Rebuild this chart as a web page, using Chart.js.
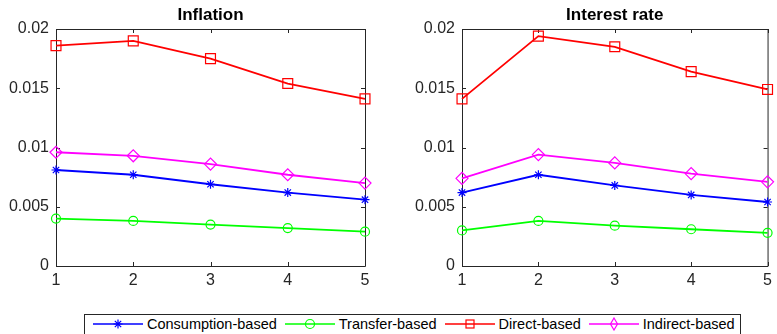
<!DOCTYPE html>
<html>
<head>
<meta charset="utf-8">
<script src="https://cdn.jsdelivr.net/npm/chart.js@4/dist/chart.umd.min.js"></script>
<style>
  html, body { margin: 0; padding: 0; background: #fff; overflow: hidden; }
  body { width: 777px; height: 334px; position: relative; font-family: "Liberation Sans", Arial, sans-serif; }
  .panel { position: absolute; top: 0; height: 290px; }
  #legend {
    position: absolute; left: 84px; top: 314px; width: 657px; height: 26px;
    box-sizing: border-box; border: 1px solid #262626; background: #fff;
    display: flex; align-items: flex-start; padding-left: 8px;
  }
  #legend .item { display: flex; align-items: center; height: 18px; margin-right: 8px; }
  #legend svg { margin-right: 4px; }
  #legend span { font-size: 14.5px; color: #000; white-space: nowrap; }
</style>
</head>
<body>
<div class="panel" style="left:0;width:388px"><canvas id="inflationChart"></canvas></div>
<div class="panel" style="left:388px;width:389px"><canvas id="interestChart"></canvas></div>
<div id="legend"></div>

<script>
// horizon (periods) on the x axis
const periods = [1, 2, 3, 4, 5];
const yTicks = [0, 0.005, 0.01, 0.015, 0.02];

const seriesNames = ["Consumption-based", "Transfer-based", "Direct-based", "Indirect-based"];
const seriesColors = ["#0000ff", "#00ff00", "#ff0000", "#ff00ff"];
const seriesMarkers = ["star", "circle", "rect", "rectRot"];
const markerRadius = [4.5, 4.5, 7, 6];

// Inflation panel
const inflationConsumption = [0.0081, 0.0077, 0.0069, 0.0062, 0.0056];
const inflationTransfer    = [0.0040, 0.0038, 0.0035, 0.0032, 0.0029];
const inflationDirect      = [0.0186, 0.0190, 0.0175, 0.0154, 0.0141];
const inflationIndirect    = [0.0096, 0.0093, 0.0086, 0.0077, 0.0070];

// Interest rate panel
const interestConsumption = [0.0062, 0.0077, 0.0068, 0.0060, 0.0054];
const interestTransfer    = [0.0030, 0.0038, 0.0034, 0.0031, 0.0028];
const interestDirect      = [0.0141, 0.0194, 0.0185, 0.0164, 0.0149];
const interestIndirect    = [0.0074, 0.0094, 0.0087, 0.0078, 0.0071];

const AXIS_COLOR = "#262626";
const TICK_FONT = { family: "'Liberation Sans', Arial, sans-serif", size: 16 };

// MATLAB-like box with inward ticks, plus title centred over the plot area
const boxAxes = {
  id: "boxAxes",
  beforeDatasetsDraw(chart) {
    const { ctx, chartArea: a, scales: { x, y } } = chart;
    const tl = 4;
    ctx.save();
    ctx.strokeStyle = AXIS_COLOR;
    ctx.lineWidth = 1;
    ctx.beginPath();
    ctx.rect(a.left + 0.5, a.top + 0.5, a.right - a.left, a.bottom - a.top);
    y.ticks.forEach((t) => {
      const py = Math.round(y.getPixelForValue(t.value)) + 0.5;
      ctx.moveTo(a.left, py); ctx.lineTo(a.left + tl, py);
      ctx.moveTo(a.right, py); ctx.lineTo(a.right - tl, py);
    });
    x.ticks.forEach((t, i) => {
      const px = Math.round(x.getPixelForTick(i)) + 0.5;
      ctx.moveTo(px, a.bottom); ctx.lineTo(px, a.bottom - tl);
      ctx.moveTo(px, a.top); ctx.lineTo(px, a.top + tl);
    });
    ctx.stroke();
    ctx.restore();
  },
  afterDraw(chart, args, opts) {
    const { ctx, chartArea: a } = chart;
    ctx.save();
    ctx.fillStyle = "#000";
    ctx.font = "bold 17px 'Liberation Sans', Arial, sans-serif";
    ctx.textAlign = "center";
    ctx.textBaseline = "middle";
    ctx.fillText(opts.text, (a.left + a.right) / 2, 15);
    ctx.restore();
  },
};

function makePanel(id, title, data, yWidth, padRight) {
  const datasets = data.map((values, i) => ({
    label: seriesNames[i],
    data: values,
    borderColor: seriesColors[i],
    backgroundColor: "rgba(0,0,0,0)",
    borderWidth: 1.8,
    pointStyle: seriesMarkers[i],
    pointRadius: markerRadius[i],
    pointBorderWidth: 1.2,
    pointBorderColor: seriesColors[i],
    pointBackgroundColor: "rgba(0,0,0,0)",
    tension: 0,
    clip: false,
  }));
  return new Chart(document.getElementById(id), {
    type: "line",
    data: { labels: periods, datasets },
    options: {
      responsive: false,
      animation: false,
      layout: { padding: { top: 29, right: padRight, left: 0, bottom: 0 } },
      plugins: {
        legend: { display: false },
        tooltip: { enabled: false },
        boxAxes: { text: title },
      },
      scales: {
        x: {
          type: "category",
          offset: false,
          grid: { display: false, drawTicks: false },
          border: { display: false },
          ticks: { color: AXIS_COLOR, font: TICK_FONT, padding: 5, maxRotation: 0 },
          afterFit: (s) => { s.height = 24; },
        },
        y: {
          min: 0,
          max: 0.02,
          afterBuildTicks: (s) => { s.ticks = yTicks.map((v) => ({ value: v })); },
          grid: { display: false, drawTicks: false },
          border: { display: false },
          ticks: {
            color: AXIS_COLOR,
            font: TICK_FONT,
            padding: 7,
            callback: (v) => String(Number(v.toFixed(3))),
          },
          afterFit: (s) => { s.width = yWidth; },
        },
      },
    },
    plugins: [boxAxes],
  });
}

function sizeCanvas(id, w, h) {
  const c = document.getElementById(id);
  c.width = w; c.height = h;
  c.style.width = w + "px"; c.style.height = h + "px";
}
sizeCanvas("inflationChart", 388, 290);
sizeCanvas("interestChart", 389, 290);

makePanel("inflationChart", "Inflation",
  [inflationConsumption, inflationTransfer, inflationDirect, inflationIndirect], 56, 23);
makePanel("interestChart", "Interest rate",
  [interestConsumption, interestTransfer, interestDirect, interestIndirect], 74, 6);

// shared legend under both panels
function markerSvg(style, color) {
  const c = 25, m = 7;
  let mark = "";
  if (style === "star") {
    const r = 4.5, d = r * Math.SQRT1_2;
    mark = `<path d="M${c - r} ${m}H${c + r}M${c} ${m - r}V${m + r}M${c - d} ${m - d}L${c + d} ${m + d}M${c - d} ${m + d}L${c + d} ${m - d}" stroke="${color}" stroke-width="1.2"/>`;
  } else if (style === "circle") {
    mark = `<circle cx="${c}" cy="${m}" r="4.5" fill="none" stroke="${color}" stroke-width="1.2"/>`;
  } else if (style === "rect") {
    mark = `<rect x="${c - 4}" y="${m - 4}" width="8" height="8" fill="none" stroke="${color}" stroke-width="1.2"/>`;
  } else {
    mark = `<path d="M${c} ${m - 6}L${c + 3.5} ${m}L${c} ${m + 6}L${c - 3.5} ${m}Z" fill="none" stroke="${color}" stroke-width="1.2"/>`;
  }
  return `<svg width="50" height="14" viewBox="0 0 50 14"><line x1="0" y1="${m}" x2="50" y2="${m}" stroke="${color}" stroke-width="1.5"/>${mark}</svg>`;
}

document.getElementById("legend").innerHTML = seriesNames
  .map((name, i) => `<div class="item">${markerSvg(seriesMarkers[i], seriesColors[i])}<span>${name}</span></div>`)
  .join("");
</script>
</body>
</html>
